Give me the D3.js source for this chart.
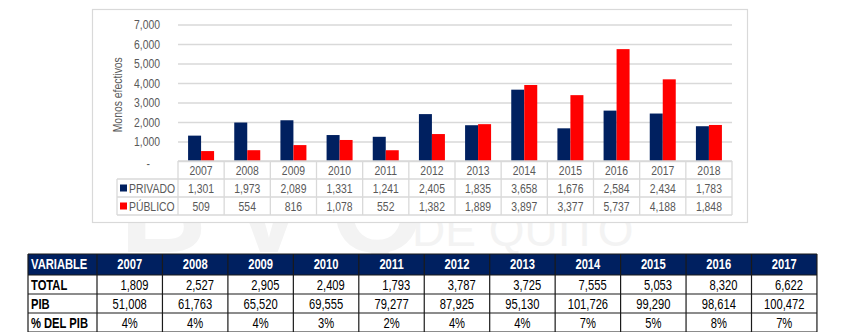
<!DOCTYPE html>
<html>
<head>
<meta charset="utf-8">
<script src="https://cdn.jsdelivr.net/npm/d3@7"></script>
<style>
  html, body { margin: 0; padding: 0; background: #fff; }
  svg { display: block; }
</style>
</head>
<body>
<div id="chart"></div>
<script>
// montos colocados por sector (chart) y resumen vs PIB (tabla inferior)
const years = ["2007", "2008", "2009", "2010", "2011", "2012", "2013", "2014", "2015", "2016", "2017", "2018"];
const privado = [1301, 1973, 2089, 1331, 1241, 2405, 1835, 3658, 1676, 2584, 2434, 1783];
const publico = [509, 554, 816, 1078, 552, 1382, 1889, 3897, 3377, 5737, 4188, 1848];
const yTicks = [0, 1000, 2000, 3000, 4000, 5000, 6000, 7000];

const tableYears = ["2007", "2008", "2009", "2010", "2011", "2012", "2013", "2014", "2015", "2016", "2017"];
const total = [1809, 2527, 2905, 2409, 1793, 3787, 3725, 7555, 5053, 8320, 6622];
const pib = [51008, 61763, 65520, 69555, 79277, 87925, 95130, 101726, 99290, 98614, 100472];
const pctPib = ["4%", "4%", "4%", "3%", "2%", "4%", "4%", "7%", "5%", "8%", "7%"];

const NAVY = "#002060", RED = "#ff0000", GREY = "#595959", GRID = "#d9d9d9";
const FONT = "'Liberation Sans', Arial, sans-serif";
const K = 0.8; // compresión horizontal para imitar Arial Narrow

const width = 844, height = 332;
const svg = d3.select("#chart").append("svg")
    .attr("width", width)
    .attr("height", height)
    .style("font-family", FONT);

const fmt = d3.format(",");

// pasa x/y a un transform y estrecha el texto
function squeeze(sel, k = K) {
    sel.each(function () {
        const t = d3.select(this);
        const tx = +t.attr("x") || 0, ty = +t.attr("y") || 0;
        t.attr("x", null).attr("y", null)
            .attr("transform", `translate(${tx},${ty}) scale(${k},1)`);
    });
}

// marca de agua de fondo
const wm = svg.append("g").attr("fill", "#f3f3f3");
wm.append("text").attr("x", 120).attr("y", 252)
    .attr("font-weight", "bold").attr("font-size", 120)
    .attr("letter-spacing", 22).text("BVQ");
wm.append("text").attr("x", 412).attr("y", 246)
    .attr("font-size", 46).text("DE QUITO");

// ---------- gráfico de barras ----------
const frame = { x: 92, y: 9, w: 655, h: 213 };
svg.append("rect")
    .attr("x", frame.x + 0.5).attr("y", frame.y + 0.5)
    .attr("width", frame.w).attr("height", frame.h)
    .attr("fill", "#fff").attr("stroke", GRID).attr("stroke-width", 1.2);

const plot = { left: 178, right: 732, top: 24.5, bottom: 161 };

const x = d3.scaleBand().domain(years).range([plot.left, plot.right]);
const y = d3.scaleLinear().domain([0, 7000]).range([plot.bottom, plot.top]);

// grid + eje y
const yAxis = d3.axisLeft(y)
    .tickValues(yTicks)
    .tickSize(-(plot.right - plot.left))
    .tickPadding(18)
    .tickFormat(d => d === 0 ? "-" : fmt(d));

const gy = svg.append("g")
    .attr("transform", `translate(${plot.left},0)`)
    .call(yAxis);
gy.select(".domain").remove();
gy.selectAll(".tick line").attr("stroke", GRID).attr("stroke-width", 1.3);
gy.selectAll(".tick text")
    .attr("fill", GREY)
    .attr("font-size", 13)
    .attr("font-family", FONT);
gy.selectAll(".tick").filter(d => d === 0).select("text").attr("x", -28).attr("dy", "0.5em");
gy.selectAll(".tick text").call(squeeze);

svg.append("text")
    .attr("transform", `translate(122,${(plot.top + plot.bottom) / 2 + 2}) rotate(-90) scale(${K},1)`)
    .attr("text-anchor", "middle")
    .attr("fill", GREY)
    .attr("font-size", 13)
    .text("Monos efectivos");

const barW = 13;
const groups = svg.append("g").selectAll("g")
    .data(years)
    .join("g")
    .attr("transform", d => `translate(${x(d) + x.bandwidth() / 2},0)`);

groups.append("rect")
    .attr("x", -barW)
    .attr("width", barW)
    .attr("y", (d, i) => y(privado[i]))
    .attr("height", (d, i) => y(0) - y(privado[i]))
    .attr("fill", NAVY);

groups.append("rect")
    .attr("x", 0)
    .attr("width", barW)
    .attr("y", (d, i) => y(publico[i]))
    .attr("height", (d, i) => y(0) - y(publico[i]))
    .attr("fill", RED);

// tabla de datos bajo el gráfico
const dt = { top: 161, rowH: 18, legendLeft: 117 };
const dtg = svg.append("g")
    .attr("fill", GREY)
    .attr("font-size", 13)
    .attr("text-anchor", "middle");

const rowsY = [dt.top, dt.top + dt.rowH, dt.top + 2 * dt.rowH, dt.top + 3 * dt.rowH];
const lineStyle = sel => sel.attr("stroke", GRID).attr("stroke-width", 1.3);

dtg.append("line").call(lineStyle)
    .attr("x1", plot.left).attr("x2", plot.right).attr("y1", rowsY[0]).attr("y2", rowsY[0]);
rowsY.slice(1).forEach(ry => {
    dtg.append("line").call(lineStyle)
        .attr("x1", dt.legendLeft).attr("x2", plot.right).attr("y1", ry).attr("y2", ry);
});
x.domain().forEach(d => {
    dtg.append("line").call(lineStyle)
        .attr("x1", x(d)).attr("x2", x(d)).attr("y1", rowsY[0]).attr("y2", rowsY[3]);
});
dtg.append("line").call(lineStyle)
    .attr("x1", plot.right).attr("x2", plot.right).attr("y1", rowsY[0]).attr("y2", rowsY[3]);
dtg.append("line").call(lineStyle)
    .attr("x1", dt.legendLeft).attr("x2", dt.legendLeft).attr("y1", rowsY[1]).attr("y2", rowsY[3]);

years.forEach((d, i) => {
    const cx = x(d) + x.bandwidth() / 2;
    dtg.append("text").attr("x", cx).attr("y", rowsY[0] + 14).text(d).call(squeeze);
    dtg.append("text").attr("x", cx).attr("y", rowsY[1] + 14).text(fmt(privado[i])).call(squeeze);
    dtg.append("text").attr("x", cx).attr("y", rowsY[2] + 14).text(fmt(publico[i])).call(squeeze);
});

[["PRIVADO", NAVY], ["PÚBLICO", RED]].forEach(([name, color], i) => {
    const ry = rowsY[i + 1];
    dtg.append("rect")
        .attr("x", 120).attr("y", ry + 5.5)
        .attr("width", 7).attr("height", 7)
        .attr("fill", color);
    dtg.append("text")
        .attr("x", 129).attr("y", ry + 14)
        .attr("text-anchor", "start")
        .text(name)
        .call(squeeze);
});

// ---------- tabla resumen ----------
const tb = { left: 28, firstW: 69, colW: 65.45, top: 254, headH: 21, rowH: 19 };
const colX = i => tb.left + tb.firstW + i * tb.colW;
const tRight = colX(tableYears.length);
const tRows = [tb.top, tb.top + tb.headH, tb.top + tb.headH + tb.rowH,
    tb.top + tb.headH + 2 * tb.rowH, tb.top + tb.headH + 3 * tb.rowH];

const tg = svg.append("g").attr("font-size", 14);

tg.append("rect")
    .attr("x", tb.left).attr("y", tRows[0])
    .attr("width", tRight - tb.left).attr("height", tb.headH)
    .attr("fill", NAVY);

const dark = sel => sel.attr("stroke", "#1a1a1a").attr("stroke-width", 1.2);
tRows.slice(1).forEach(ry => {
    tg.append("line").call(dark)
        .attr("x1", tb.left).attr("x2", tRight).attr("y1", ry).attr("y2", ry);
});
[tb.left].concat(d3.range(tableYears.length + 1).map(colX)).forEach(cx => {
    tg.append("line").call(dark)
        .attr("x1", cx).attr("x2", cx).attr("y1", tRows[0]).attr("y2", tRows[4]);
});
tg.append("line").call(dark)
    .attr("x1", tb.left).attr("x2", tRight).attr("y1", tRows[0]).attr("y2", tRows[0]);

tg.append("text")
    .attr("x", tb.left + 3).attr("y", tRows[0] + 15)
    .attr("fill", "#fff").attr("font-weight", "bold")
    .text("VARIABLE")
    .call(squeeze);
tableYears.forEach((d, i) => {
    tg.append("text")
        .attr("x", colX(i) + tb.colW / 2).attr("y", tRows[0] + 15)
        .attr("text-anchor", "middle")
        .attr("fill", "#fff").attr("font-weight", "bold")
        .text(d)
        .call(squeeze);
});

const bodyRows = [
    { label: "TOTAL", values: total.map(fmt), align: "end" },
    { label: "PIB", values: pib.map(fmt), align: "middle" },
    { label: "% DEL PIB", values: pctPib, align: "middle" }
];
bodyRows.forEach((r, ri) => {
    const ty = tRows[ri + 1] + 14.5;
    tg.append("text")
        .attr("x", tb.left + 3).attr("y", ty)
        .attr("font-weight", "bold").attr("fill", "#000")
        .text(r.label)
        .call(squeeze);
    r.values.forEach((v, i) => {
        tg.append("text")
            .attr("x", r.align === "end" ? colX(i) + tb.colW - 14 : colX(i) + tb.colW / 2)
            .attr("y", ty)
            .attr("text-anchor", r.align)
            .attr("fill", "#000")
            .text(v)
            .call(squeeze);
    });
});
</script>
</body>
</html>
